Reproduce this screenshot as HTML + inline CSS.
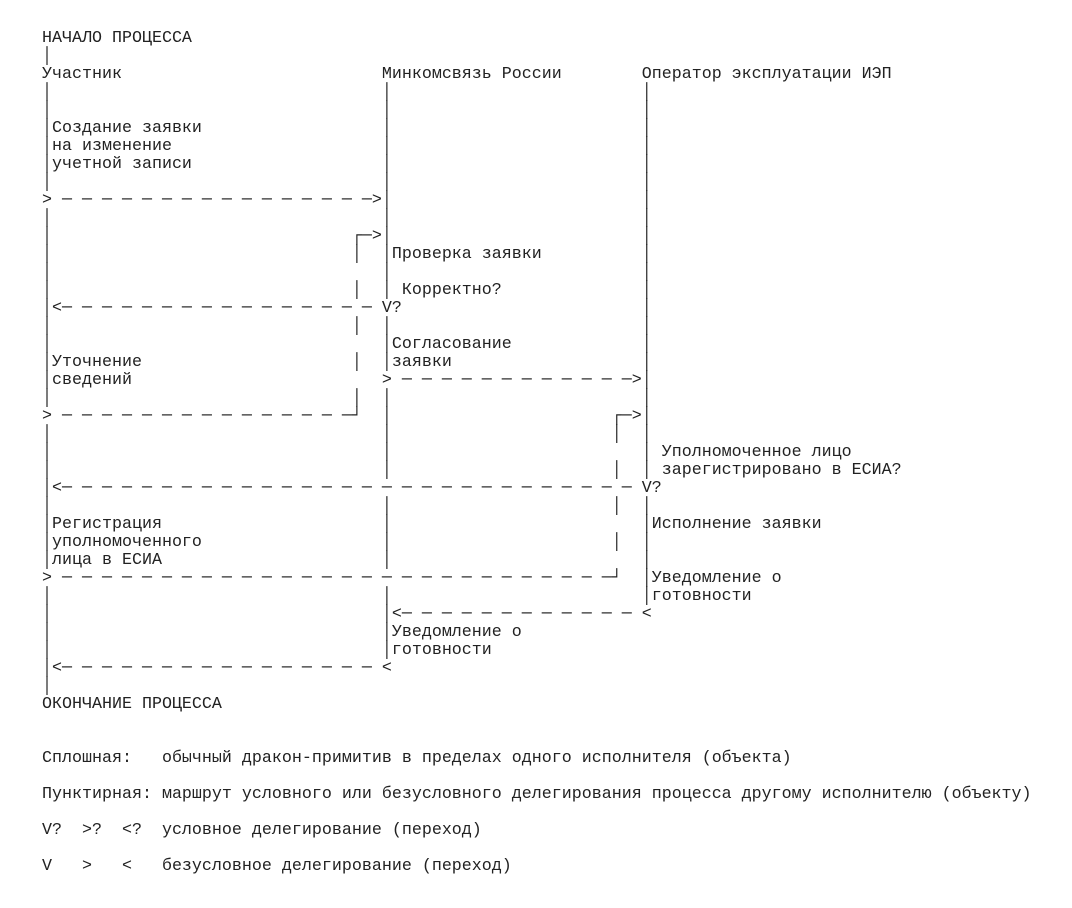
<!DOCTYPE html>
<html><head><meta charset="utf-8">
<style>
html,body{margin:0;padding:0;background:#fff;width:1072px;height:908px;overflow:hidden}
pre{position:absolute;left:42px;top:30px;margin:0;font-family:"Liberation Mono","DejaVu Sans Mono",monospace;font-size:16.67px;line-height:18px;color:#222}
</style></head><body>
<pre>НАЧАЛО ПРОЦЕССА
│
Участник                          Минкомсвязь России        Оператор эксплуатации ИЭП
│                                 │                         │
│                                 │                         │
│Создание заявки                  │                         │
│на изменение                     │                         │
│учетной записи                   │                         │
│                                 │                         │
&gt; ─ ─ ─ ─ ─ ─ ─ ─ ─ ─ ─ ─ ─ ─ ─ ─&gt;│                         │
│                                 │                         │
│                              ┌─&gt;│                         │
│                              │  │Проверка заявки          │
│                                 │                         │
│                              │  │ Корректно?              │
│&lt;─ ─ ─ ─ ─ ─ ─ ─ ─ ─ ─ ─ ─ ─ ─ ─ V?                        │
│                              │  │                         │
│                                 │Согласование             │
│Уточнение                     │  │заявки                   │
│сведений                         &gt; ─ ─ ─ ─ ─ ─ ─ ─ ─ ─ ─ ─&gt;│
│                              │  │                         │
&gt; ─ ─ ─ ─ ─ ─ ─ ─ ─ ─ ─ ─ ─ ─ ─┘  │                      ┌─&gt;│
│                                 │                      │  │
│                                 │                         │ Уполномоченное лицо
│                                 │                      │  │ зарегистрировано в ЕСИА?
│&lt;─ ─ ─ ─ ─ ─ ─ ─ ─ ─ ─ ─ ─ ─ ─ ─ ─ ─ ─ ─ ─ ─ ─ ─ ─ ─ ─ ─ ─ V?
│                                 │                      │  │
│Регистрация                      │                         │Исполнение заявки
│уполномоченного                  │                      │  │
│лица в ЕСИА                      │                         │
&gt; ─ ─ ─ ─ ─ ─ ─ ─ ─ ─ ─ ─ ─ ─ ─ ─ ─ ─ ─ ─ ─ ─ ─ ─ ─ ─ ─ ─┘  │Уведомление о
│                                 │                         │готовности
│                                 │&lt;─ ─ ─ ─ ─ ─ ─ ─ ─ ─ ─ ─ &lt;
│                                 │Уведомление о
│                                 │готовности
│&lt;─ ─ ─ ─ ─ ─ ─ ─ ─ ─ ─ ─ ─ ─ ─ ─ &lt;
│
ОКОНЧАНИЕ ПРОЦЕССА


Сплошная:   обычный дракон-примитив в пределах одного исполнителя (объекта)

Пунктирная: маршрут условного или безусловного делегирования процесса другому исполнителю (объекту)

V?  &gt;?  &lt;?  условное делегирование (переход)

V   &gt;   &lt;   безусловное делегирование (переход)</pre>
</body></html>
